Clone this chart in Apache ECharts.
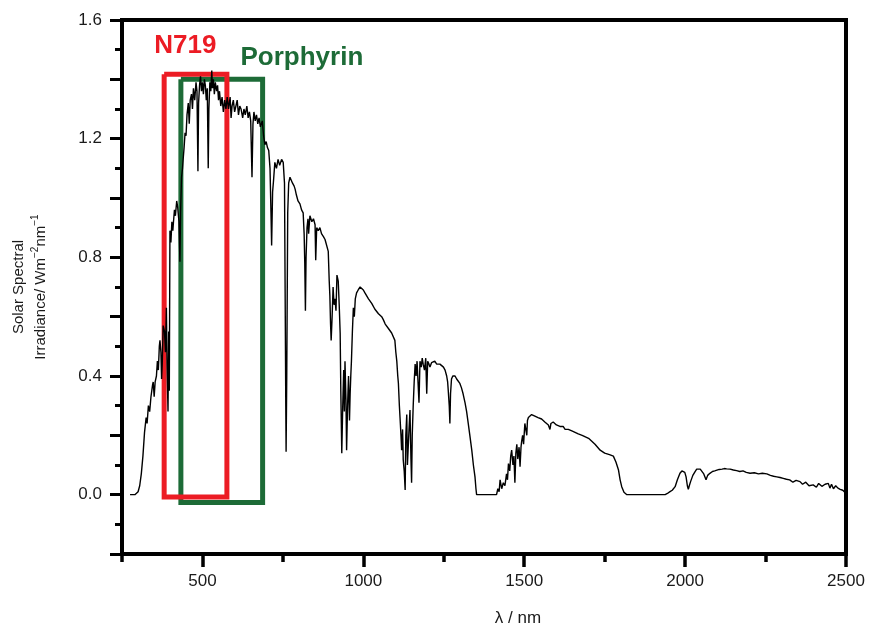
<!DOCTYPE html>
<html>
<head>
<meta charset="utf-8">
<script src="https://cdn.jsdelivr.net/npm/echarts@6/dist/echarts.min.js"></script>
<style>html,body{margin:0;padding:0;background:#fff}#c{width:871px;height:625px}</style>
</head>
<body>
<div id="c"></div>
<script>
// Wavelength (nm) and solar spectral irradiance (W m^-2 nm^-1)
const wavelength = [275,280,290,295,300,305,310,315,320,325,328,332,336,340,345,347,350,353,357,360,363,366,368,371,373,375,378,382,385,388,390,393,395,397,399,402,405,408,410,413,416,420,423,427,430,432,435,438,440,443,446,449,452,456,459,462,466,469,472,476,480,483,486,488,491,494,497,500,503,506,509,512,515,518,520,523,526,529,531,534,537,540,544,547,550,553,557,561,565,569,573,577,581,586,589,592,596,600,604,608,612,616,620,625,629,633,638,642,646,650,654,657,660,664,668,672,676,680,686,690,694,698,702,706,710,713,715,718,721,725,730,735,740,746,751,755,757,759,760,762,765,768,772,776,780,785,788,792,797,803,808,813,816,818,820,822,825,828,830,834,840,845,850,852,855,860,865,870,876,881,886,891,894,896,898,900,903,906,909,912,915,918,922,925,928,930,933,936,939,941,943,946,948,951,954,957,959,961,963,966,969,972,975,979,984,990,995,1000,1005,1010,1016,1021,1026,1031,1036,1042,1047,1052,1057,1062,1068,1073,1078,1083,1088,1093,1098,1101,1104,1107,1109,1112,1114,1117,1119,1122,1124,1127,1130,1132,1135,1137,1140,1142,1145,1148,1150,1152,1155,1158,1161,1164,1167,1171,1173,1176,1180,1183,1186,1190,1194,1197,1200,1204,1207,1212,1217,1222,1228,1233,1238,1243,1249,1254,1259,1262,1264,1267,1269,1271,1274,1278,1282,1285,1290,1295,1300,1305,1310,1316,1321,1326,1331,1337,1342,1347,1350,1352,1380,1414,1418,1422,1425,1430,1435,1440,1445,1448,1451,1455,1458,1461,1465,1468,1471,1474,1477,1480,1484,1487,1490,1492,1495,1498,1502,1505,1508,1510,1513,1518,1523,1528,1533,1538,1543,1549,1554,1559,1564,1570,1575,1580,1583,1587,1590,1595,1600,1605,1611,1616,1621,1627,1632,1637,1642,1648,1653,1658,1663,1668,1673,1680,1690,1700,1710,1720,1736,1750,1765,1777,1785,1793,1798,1803,1810,1819,1880,1938,1945,1953,1960,1969,1976,1984,1990,1994,1999,2003,2007,2010,2013,2017,2024,2031,2036,2041,2047,2052,2058,2065,2070,2077,2085,2092,2098,2106,2115,2122,2129,2140,2150,2160,2170,2180,2190,2202,2215,2228,2240,2254,2265,2275,2285,2295,2305,2315,2325,2335,2345,2357,2365,2375,2385,2398,2408,2415,2425,2435,2445,2450,2455,2461,2468,2475,2482,2490,2497,2500];
const irradiance = [0,0,0,0.002,0.01,0.03,0.07,0.13,0.21,0.26,0.24,0.30,0.28,0.33,0.37,0.38,0.33,0.38,0.40,0.45,0.42,0.50,0.52,0.48,0.39,0.44,0.57,0.55,0.48,0.63,0.44,0.28,0.55,0.35,0.89,0.85,0.92,0.89,0.92,0.96,0.94,0.99,0.97,0.92,0.785,0.95,1.07,1.10,1.13,1.17,1.22,1.21,1.28,1.32,1.25,1.33,1.35,1.30,1.37,1.33,1.39,1.36,1.09,1.32,1.38,1.41,1.36,1.39,1.35,1.40,1.38,1.33,1.37,1.10,1.30,1.39,1.36,1.43,1.37,1.40,1.35,1.39,1.36,1.38,1.33,1.36,1.31,1.34,1.29,1.33,1.30,1.34,1.30,1.34,1.27,1.31,1.33,1.29,1.31,1.33,1.28,1.31,1.30,1.27,1.30,1.28,1.31,1.27,1.29,1.26,1.07,1.25,1.29,1.26,1.28,1.25,1.27,1.24,1.26,1.21,1.18,1.19,1.17,1.16,1.10,0.95,0.84,1.02,1.06,1.12,1.10,1.13,1.11,1.13,1.12,1.05,0.68,0.30,0.145,0.40,0.95,1.05,1.07,1.06,1.05,1.04,1.03,1.01,0.99,0.98,0.96,0.95,0.88,0.78,0.62,0.80,0.90,0.93,0.88,0.94,0.92,0.93,0.91,0.79,0.90,0.89,0.90,0.88,0.87,0.86,0.86,0.82,0.72,0.67,0.58,0.52,0.60,0.70,0.64,0.66,0.62,0.74,0.72,0.64,0.545,0.35,0.14,0.30,0.42,0.28,0.45,0.32,0.15,0.30,0.40,0.25,0.34,0.40,0.45,0.55,0.63,0.60,0.66,0.68,0.69,0.70,0.695,0.69,0.68,0.675,0.66,0.66,0.645,0.64,0.625,0.62,0.61,0.605,0.60,0.59,0.575,0.57,0.56,0.555,0.545,0.54,0.52,0.48,0.45,0.40,0.375,0.30,0.26,0.20,0.15,0.22,0.117,0.08,0.016,0.20,0.27,0.10,0.094,0.22,0.285,0.12,0.04,0.20,0.30,0.38,0.44,0.40,0.45,0.45,0.31,0.45,0.43,0.46,0.44,0.42,0.46,0.34,0.45,0.44,0.43,0.445,0.44,0.45,0.44,0.445,0.44,0.435,0.43,0.42,0.40,0.38,0.35,0.30,0.24,0.34,0.39,0.40,0.405,0.40,0.39,0.385,0.375,0.36,0.34,0.31,0.28,0.24,0.20,0.15,0.10,0.06,0.02,0,0,0,0.02,0.01,0.05,0.02,0.04,0.03,0.07,0.05,0.105,0.08,0.13,0.15,0.10,0.13,0.04,0.14,0.17,0.12,0.16,0.094,0.16,0.18,0.20,0.17,0.24,0.22,0.20,0.25,0.26,0.265,0.27,0.27,0.265,0.27,0.26,0.26,0.255,0.25,0.245,0.24,0.235,0.22,0.24,0.245,0.245,0.24,0.235,0.23,0.23,0.225,0.23,0.22,0.225,0.22,0.215,0.215,0.21,0.21,0.205,0.205,0.205,0.20,0.195,0.19,0.18,0.17,0.15,0.14,0.135,0.13,0.11,0.083,0.05,0.027,0.008,0,0,0,0.004,0.01,0.015,0.027,0.05,0.072,0.08,0.081,0.075,0.06,0.03,0.018,0.03,0.044,0.065,0.078,0.086,0.089,0.086,0.083,0.07,0.05,0.065,0.072,0.078,0.08,0.081,0.085,0.086,0.088,0.087,0.086,0.083,0.081,0.078,0.08,0.075,0.072,0.074,0.07,0.072,0.07,0.065,0.062,0.06,0.058,0.055,0.052,0.05,0.042,0.048,0.044,0.035,0.042,0.03,0.033,0.025,0.038,0.028,0.035,0.038,0.022,0.035,0.02,0.03,0.022,0.018,0.015,0.007,0.005];

// Absorption windows of the two dyes (wavelength range, irradiance range)
const n719Range = [381, 576];
const n719Level = [-0.008, 1.417];
const porphyrinRange = [433, 687];
const porphyrinLevel = [-0.026, 1.40];

// Annotation anchor points [wavelength, irradiance]
const n719LabelAt = [447, 1.512];
const porphyrinLabelAt = [809, 1.474];

// Axis ticks and labels
const xMajorTicks = [500, 1000, 1500, 2000, 2500];
const xMinorTicks = [250, 750, 1250, 1750, 2250];
const xTickLabels = [500, 1000, 1500, 2000, 2500];
const yTickLabels = [0, 0.4, 0.8, 1.2, 1.6];

function boxPath(r, l) {
  return [[r[0], l[1]], [r[0], l[0]], [r[1], l[0]], [r[1], l[1]], [r[0], l[1]]];
}

const spectrum = wavelength.map((w, i) => [w, irradiance[i]]);

const chart = echarts.init(document.getElementById('c'));
const font = 'Liberation Sans, Arial, sans-serif';
chart.setOption({
  animation: false,
  backgroundColor: '#fff',
  grid: { left: 122, right: 25, top: 20, bottom: 71, show: true, borderColor: '#000', borderWidth: 4, containLabel: false, outerBoundsMode: 'none' },
  xAxis: [
    {
      type: 'value', min: 250, max: 2500, interval: 250, position: 'bottom',
      axisLine: { show: true, onZero: false, lineStyle: { color: '#000', width: 4 } },
      axisTick: { show: true, customValues: xMajorTicks, length: 13, lineStyle: { color: '#000', width: 3.5 } },
      axisLabel: { customValues: xTickLabels, formatter: v => String(v), color: '#1a1a1a', fontSize: 17, fontFamily: font, margin: 19 },
      splitLine: { show: false },
      name: 'λ / nm', nameLocation: 'middle', nameGap: 56,
      nameTextStyle: { color: '#1a1a1a', fontSize: 17, fontFamily: font, padding: [0, 0, 0, 68] }
    },
    {
      type: 'value', min: 250, max: 2500, interval: 250, position: 'bottom', offset: 0,
      axisLine: { show: false, onZero: false },
      axisTick: { show: true, customValues: xMinorTicks, length: 8, lineStyle: { color: '#000', width: 3.5 } },
      axisLabel: { show: false },
      splitLine: { show: false }
    }
  ],
  yAxis: {
    type: 'value', min: -0.2, max: 1.6, interval: 0.2,
    axisLine: { show: true, onZero: false, lineStyle: { color: '#000', width: 4 } },
    axisTick: { show: true, length: 12, lineStyle: { color: '#000', width: 3 } },
    minorTick: { show: true, splitNumber: 2, length: 7, lineStyle: { color: '#000', width: 3 } },
    minorSplitLine: { show: false },
    axisLabel: { customValues: yTickLabels, formatter: v => v.toFixed(1), color: '#1a1a1a', fontSize: 17, fontFamily: font, margin: 20 },
    splitLine: { show: false },
    name: '{a|Solar Spectral}\n{a|Irradiance/ Wm}{s|−2}{a|nm}{s|−1}',
    nameLocation: 'middle', nameRotate: 90, nameGap: 70,
    nameTextStyle: {
      color: '#1a1a1a',
      rich: {
        a: { fontSize: 15, lineHeight: 22, fontFamily: font, color: '#1a1a1a' },
        s: { fontSize: 10, lineHeight: 22, fontFamily: font, color: '#1a1a1a', verticalAlign: 'top' }
      }
    }
  },
  series: [
    {
      type: 'line', data: boxPath(porphyrinRange, porphyrinLevel), symbol: 'none', silent: true,
      lineStyle: { color: '#1d6b37', width: 5, join: 'miter' }, z: 2
    },
    {
      type: 'line', data: boxPath(n719Range, n719Level), symbol: 'none', silent: true,
      lineStyle: { color: '#ec1c24', width: 5, join: 'miter' }, z: 3
    },
    {
      type: 'line', data: spectrum, symbol: 'none', silent: true,
      lineStyle: { color: '#000', width: 1.4 }, z: 4
    },
    {
      type: 'line', data: [n719LabelAt], symbol: 'circle', symbolSize: 0, showSymbol: true, silent: true, z: 5,
      lineStyle: { width: 0 }, itemStyle: { opacity: 1, color: '#ec1c24' },
      label: { show: true, position: 'inside', formatter: 'N719', color: '#ec1c24', fontSize: 26, fontWeight: 'bold', fontFamily: font, opacity: 1 }
    },
    {
      type: 'line', data: [porphyrinLabelAt], symbol: 'circle', symbolSize: 0, showSymbol: true, silent: true, z: 5,
      lineStyle: { width: 0 }, itemStyle: { opacity: 1, color: '#1d6b37' },
      label: { show: true, position: 'inside', formatter: 'Porphyrin', color: '#1d6b37', fontSize: 26, fontWeight: 'bold', fontFamily: font, opacity: 1 }
    }
  ]
});
</script>
</body>
</html>
